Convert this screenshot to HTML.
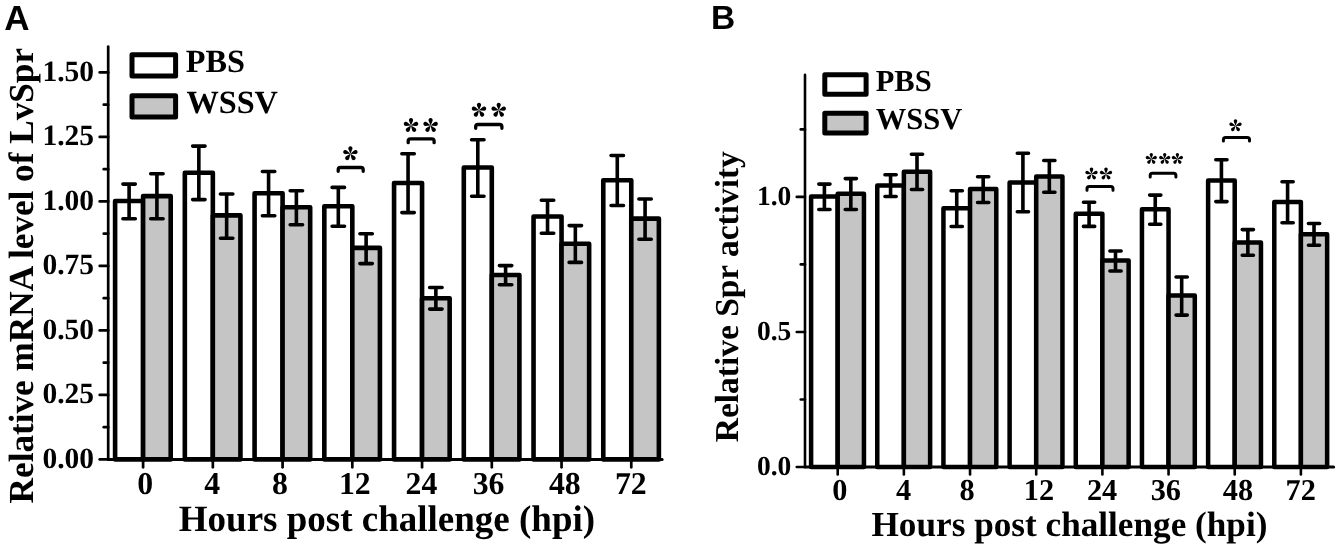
<!DOCTYPE html>
<html><head><meta charset="utf-8"><style>
html,body{margin:0;padding:0;background:#fff;}
body{width:1341px;height:550px;overflow:hidden;}
svg{display:block;will-change:transform;}
text{text-rendering:geometricPrecision;}
</style></head><body>
<svg width="1341" height="550" viewBox="0 0 1341 550">
<rect width="1341" height="550" fill="#fff"/>
<rect x="115.10" y="201.00" width="28.00" height="258.40" fill="#fff" stroke="#000" stroke-width="4.6" stroke-linejoin="round"/>
<rect x="143.10" y="196.10" width="27.60" height="263.30" fill="#c5c5c5" stroke="#000" stroke-width="4.6" stroke-linejoin="round"/>
<rect x="184.84" y="172.80" width="28.00" height="286.60" fill="#fff" stroke="#000" stroke-width="4.6" stroke-linejoin="round"/>
<rect x="212.84" y="215.40" width="27.60" height="244.00" fill="#c5c5c5" stroke="#000" stroke-width="4.6" stroke-linejoin="round"/>
<rect x="254.58" y="193.30" width="28.00" height="266.10" fill="#fff" stroke="#000" stroke-width="4.6" stroke-linejoin="round"/>
<rect x="282.58" y="207.30" width="27.60" height="252.10" fill="#c5c5c5" stroke="#000" stroke-width="4.6" stroke-linejoin="round"/>
<rect x="324.32" y="206.20" width="28.00" height="253.20" fill="#fff" stroke="#000" stroke-width="4.6" stroke-linejoin="round"/>
<rect x="352.32" y="247.90" width="27.60" height="211.50" fill="#c5c5c5" stroke="#000" stroke-width="4.6" stroke-linejoin="round"/>
<rect x="394.06" y="183.00" width="28.00" height="276.40" fill="#fff" stroke="#000" stroke-width="4.6" stroke-linejoin="round"/>
<rect x="422.06" y="298.20" width="27.60" height="161.20" fill="#c5c5c5" stroke="#000" stroke-width="4.6" stroke-linejoin="round"/>
<rect x="463.80" y="167.50" width="28.00" height="291.90" fill="#fff" stroke="#000" stroke-width="4.6" stroke-linejoin="round"/>
<rect x="491.80" y="275.00" width="27.60" height="184.40" fill="#c5c5c5" stroke="#000" stroke-width="4.6" stroke-linejoin="round"/>
<rect x="533.54" y="216.50" width="28.00" height="242.90" fill="#fff" stroke="#000" stroke-width="4.6" stroke-linejoin="round"/>
<rect x="561.54" y="243.80" width="27.60" height="215.60" fill="#c5c5c5" stroke="#000" stroke-width="4.6" stroke-linejoin="round"/>
<rect x="603.28" y="180.30" width="28.00" height="279.10" fill="#fff" stroke="#000" stroke-width="4.6" stroke-linejoin="round"/>
<rect x="631.28" y="218.60" width="27.60" height="240.80" fill="#c5c5c5" stroke="#000" stroke-width="4.6" stroke-linejoin="round"/>
<path d="M129.10,184.10 V218.80 M122.90,184.10 H135.30 M122.90,218.80 H135.30" stroke="#000" stroke-width="3.6" stroke-linecap="round" fill="none"/>
<path d="M156.90,173.70 V218.80 M150.70,173.70 H163.10 M150.70,218.80 H163.10" stroke="#000" stroke-width="3.6" stroke-linecap="round" fill="none"/>
<path d="M198.84,146.10 V199.60 M192.64,146.10 H205.04 M192.64,199.60 H205.04" stroke="#000" stroke-width="3.6" stroke-linecap="round" fill="none"/>
<path d="M226.64,194.00 V238.30 M220.44,194.00 H232.84 M220.44,238.30 H232.84" stroke="#000" stroke-width="3.6" stroke-linecap="round" fill="none"/>
<path d="M268.58,171.50 V215.70 M262.38,171.50 H274.78 M262.38,215.70 H274.78" stroke="#000" stroke-width="3.6" stroke-linecap="round" fill="none"/>
<path d="M296.38,190.80 V224.70 M290.18,190.80 H302.58 M290.18,224.70 H302.58" stroke="#000" stroke-width="3.6" stroke-linecap="round" fill="none"/>
<path d="M338.32,187.40 V226.30 M332.12,187.40 H344.52 M332.12,226.30 H344.52" stroke="#000" stroke-width="3.6" stroke-linecap="round" fill="none"/>
<path d="M366.12,233.70 V263.60 M359.92,233.70 H372.32 M359.92,263.60 H372.32" stroke="#000" stroke-width="3.6" stroke-linecap="round" fill="none"/>
<path d="M408.06,153.70 V212.60 M401.86,153.70 H414.26 M401.86,212.60 H414.26" stroke="#000" stroke-width="3.6" stroke-linecap="round" fill="none"/>
<path d="M435.86,287.50 V309.10 M429.66,287.50 H442.06 M429.66,309.10 H442.06" stroke="#000" stroke-width="3.6" stroke-linecap="round" fill="none"/>
<path d="M477.80,139.70 V196.20 M471.60,139.70 H484.00 M471.60,196.20 H484.00" stroke="#000" stroke-width="3.6" stroke-linecap="round" fill="none"/>
<path d="M505.60,265.60 V284.80 M499.40,265.60 H511.80 M499.40,284.80 H511.80" stroke="#000" stroke-width="3.6" stroke-linecap="round" fill="none"/>
<path d="M547.54,200.20 V233.30 M541.34,200.20 H553.74 M541.34,233.30 H553.74" stroke="#000" stroke-width="3.6" stroke-linecap="round" fill="none"/>
<path d="M575.34,225.60 V262.40 M569.14,225.60 H581.54 M569.14,262.40 H581.54" stroke="#000" stroke-width="3.6" stroke-linecap="round" fill="none"/>
<path d="M617.28,155.50 V205.50 M611.08,155.50 H623.48 M611.08,205.50 H623.48" stroke="#000" stroke-width="3.6" stroke-linecap="round" fill="none"/>
<path d="M645.08,199.00 V239.20 M638.88,199.00 H651.28 M638.88,239.20 H651.28" stroke="#000" stroke-width="3.6" stroke-linecap="round" fill="none"/>
<line x1="108.20" y1="46.60" x2="108.20" y2="459.40" stroke="#000" stroke-width="2.7" stroke-linecap="round"/>
<line x1="108.20" y1="459.40" x2="662.10" y2="459.40" stroke="#000" stroke-width="3.0" stroke-linecap="round"/>
<line x1="99.70" y1="459.40" x2="108.20" y2="459.40" stroke="#000" stroke-width="2.7" stroke-linecap="round"/>
<text x="94.00" y="467.90" text-anchor="end" font-family="Liberation Serif" font-weight="bold" font-size="29.5">0.00</text>
<line x1="99.70" y1="394.90" x2="108.20" y2="394.90" stroke="#000" stroke-width="2.7" stroke-linecap="round"/>
<text x="94.00" y="403.40" text-anchor="end" font-family="Liberation Serif" font-weight="bold" font-size="29.5">0.25</text>
<line x1="99.70" y1="330.40" x2="108.20" y2="330.40" stroke="#000" stroke-width="2.7" stroke-linecap="round"/>
<text x="94.00" y="338.90" text-anchor="end" font-family="Liberation Serif" font-weight="bold" font-size="29.5">0.50</text>
<line x1="99.70" y1="265.90" x2="108.20" y2="265.90" stroke="#000" stroke-width="2.7" stroke-linecap="round"/>
<text x="94.00" y="274.40" text-anchor="end" font-family="Liberation Serif" font-weight="bold" font-size="29.5">0.75</text>
<line x1="99.70" y1="201.40" x2="108.20" y2="201.40" stroke="#000" stroke-width="2.7" stroke-linecap="round"/>
<text x="94.00" y="209.90" text-anchor="end" font-family="Liberation Serif" font-weight="bold" font-size="29.5">1.00</text>
<line x1="99.70" y1="136.90" x2="108.20" y2="136.90" stroke="#000" stroke-width="2.7" stroke-linecap="round"/>
<text x="94.00" y="145.40" text-anchor="end" font-family="Liberation Serif" font-weight="bold" font-size="29.5">1.25</text>
<line x1="99.70" y1="72.40" x2="108.20" y2="72.40" stroke="#000" stroke-width="2.7" stroke-linecap="round"/>
<text x="94.00" y="80.90" text-anchor="end" font-family="Liberation Serif" font-weight="bold" font-size="29.5">1.50</text>
<line x1="103.75" y1="427.15" x2="108.20" y2="427.15" stroke="#000" stroke-width="2.7" stroke-linecap="round"/>
<line x1="103.75" y1="362.65" x2="108.20" y2="362.65" stroke="#000" stroke-width="2.7" stroke-linecap="round"/>
<line x1="103.75" y1="298.15" x2="108.20" y2="298.15" stroke="#000" stroke-width="2.7" stroke-linecap="round"/>
<line x1="103.75" y1="233.65" x2="108.20" y2="233.65" stroke="#000" stroke-width="2.7" stroke-linecap="round"/>
<line x1="103.75" y1="169.15" x2="108.20" y2="169.15" stroke="#000" stroke-width="2.7" stroke-linecap="round"/>
<line x1="103.75" y1="104.65" x2="108.20" y2="104.65" stroke="#000" stroke-width="2.7" stroke-linecap="round"/>
<line x1="143.10" y1="459.40" x2="143.10" y2="467.35" stroke="#000" stroke-width="2.7" stroke-linecap="round"/>
<text x="145.10" y="494.00" text-anchor="middle" font-family="Liberation Serif" font-weight="bold" font-size="31.8">0</text>
<line x1="212.84" y1="459.40" x2="212.84" y2="467.35" stroke="#000" stroke-width="2.7" stroke-linecap="round"/>
<text x="212.28" y="494.00" text-anchor="middle" font-family="Liberation Serif" font-weight="bold" font-size="31.8">4</text>
<line x1="282.58" y1="459.40" x2="282.58" y2="467.35" stroke="#000" stroke-width="2.7" stroke-linecap="round"/>
<text x="280.00" y="494.00" text-anchor="middle" font-family="Liberation Serif" font-weight="bold" font-size="31.8">8</text>
<line x1="352.32" y1="459.40" x2="352.32" y2="467.35" stroke="#000" stroke-width="2.7" stroke-linecap="round"/>
<text x="354.79" y="494.00" text-anchor="middle" font-family="Liberation Serif" font-weight="bold" font-size="31.8">12</text>
<line x1="422.06" y1="459.40" x2="422.06" y2="467.35" stroke="#000" stroke-width="2.7" stroke-linecap="round"/>
<text x="421.48" y="494.00" text-anchor="middle" font-family="Liberation Serif" font-weight="bold" font-size="31.8">24</text>
<line x1="491.80" y1="459.40" x2="491.80" y2="467.35" stroke="#000" stroke-width="2.7" stroke-linecap="round"/>
<text x="488.54" y="494.00" text-anchor="middle" font-family="Liberation Serif" font-weight="bold" font-size="31.8">36</text>
<line x1="561.54" y1="459.40" x2="561.54" y2="467.35" stroke="#000" stroke-width="2.7" stroke-linecap="round"/>
<text x="564.82" y="494.00" text-anchor="middle" font-family="Liberation Serif" font-weight="bold" font-size="31.8">48</text>
<line x1="631.28" y1="459.40" x2="631.28" y2="467.35" stroke="#000" stroke-width="2.7" stroke-linecap="round"/>
<text x="630.79" y="494.00" text-anchor="middle" font-family="Liberation Serif" font-weight="bold" font-size="31.8">72</text>
<text x="178.80" y="531.00" font-family="Liberation Serif" font-weight="bold" font-size="37.0">Hours post challenge (hpi)</text>
<text transform="translate(33.40,503.40) rotate(-90)" font-family="Liberation Serif" font-weight="bold" font-size="35.2">Relative mRNA level of LvSpr</text>
<rect x="132.00" y="54.80" width="43.60" height="21.10" fill="#fff" stroke="#000" stroke-width="5.0" stroke-linejoin="round"/>
<text x="185.70" y="72.10" font-family="Liberation Serif" font-weight="bold" font-size="32.3">PBS</text>
<rect x="132.00" y="95.70" width="43.60" height="21.20" fill="#c5c5c5" stroke="#000" stroke-width="5.0" stroke-linejoin="round"/>
<text x="186.40" y="112.90" font-family="Liberation Serif" font-weight="bold" font-size="32.3">WSSV</text>
<path d="M338.20,171.30 L338.20,169.70 Q338.20,167.50 340.40,167.50 L361.00,167.50 Q363.20,167.50 363.20,169.70 L363.20,171.30" fill="none" stroke="#000" stroke-width="3.3" stroke-linecap="round" stroke-linejoin="round"/>
<g fill="#000"><path transform="translate(350.40,153.70) rotate(0.0)" d="M0,0 L-1.92,-4.55 A2.10,2.10 0 1,1 1.92,-4.55 Z"/><path transform="translate(350.40,153.70) rotate(72.0)" d="M0,0 L-1.92,-4.55 A2.10,2.10 0 1,1 1.92,-4.55 Z"/><path transform="translate(350.40,153.70) rotate(144.0)" d="M0,0 L-1.92,-4.55 A2.10,2.10 0 1,1 1.92,-4.55 Z"/><path transform="translate(350.40,153.70) rotate(216.0)" d="M0,0 L-1.92,-4.55 A2.10,2.10 0 1,1 1.92,-4.55 Z"/><path transform="translate(350.40,153.70) rotate(288.0)" d="M0,0 L-1.92,-4.55 A2.10,2.10 0 1,1 1.92,-4.55 Z"/></g>
<path d="M408.20,142.70 L408.20,141.10 Q408.20,138.90 410.40,138.90 L431.90,138.90 Q434.10,138.90 434.10,141.10 L434.10,142.70" fill="none" stroke="#000" stroke-width="3.3" stroke-linecap="round" stroke-linejoin="round"/>
<g fill="#000"><path transform="translate(411.00,125.50) rotate(0.0)" d="M0,0 L-1.92,-4.55 A2.10,2.10 0 1,1 1.92,-4.55 Z"/><path transform="translate(411.00,125.50) rotate(72.0)" d="M0,0 L-1.92,-4.55 A2.10,2.10 0 1,1 1.92,-4.55 Z"/><path transform="translate(411.00,125.50) rotate(144.0)" d="M0,0 L-1.92,-4.55 A2.10,2.10 0 1,1 1.92,-4.55 Z"/><path transform="translate(411.00,125.50) rotate(216.0)" d="M0,0 L-1.92,-4.55 A2.10,2.10 0 1,1 1.92,-4.55 Z"/><path transform="translate(411.00,125.50) rotate(288.0)" d="M0,0 L-1.92,-4.55 A2.10,2.10 0 1,1 1.92,-4.55 Z"/></g>
<g fill="#000"><path transform="translate(430.60,125.50) rotate(0.0)" d="M0,0 L-1.92,-4.55 A2.10,2.10 0 1,1 1.92,-4.55 Z"/><path transform="translate(430.60,125.50) rotate(72.0)" d="M0,0 L-1.92,-4.55 A2.10,2.10 0 1,1 1.92,-4.55 Z"/><path transform="translate(430.60,125.50) rotate(144.0)" d="M0,0 L-1.92,-4.55 A2.10,2.10 0 1,1 1.92,-4.55 Z"/><path transform="translate(430.60,125.50) rotate(216.0)" d="M0,0 L-1.92,-4.55 A2.10,2.10 0 1,1 1.92,-4.55 Z"/><path transform="translate(430.60,125.50) rotate(288.0)" d="M0,0 L-1.92,-4.55 A2.10,2.10 0 1,1 1.92,-4.55 Z"/></g>
<path d="M475.70,128.30 L475.70,126.70 Q475.70,124.50 477.90,124.50 L499.70,124.50 Q501.90,124.50 501.90,126.70 L501.90,128.30" fill="none" stroke="#000" stroke-width="3.3" stroke-linecap="round" stroke-linejoin="round"/>
<g fill="#000"><path transform="translate(479.00,110.30) rotate(0.0)" d="M0,0 L-1.92,-4.55 A2.10,2.10 0 1,1 1.92,-4.55 Z"/><path transform="translate(479.00,110.30) rotate(72.0)" d="M0,0 L-1.92,-4.55 A2.10,2.10 0 1,1 1.92,-4.55 Z"/><path transform="translate(479.00,110.30) rotate(144.0)" d="M0,0 L-1.92,-4.55 A2.10,2.10 0 1,1 1.92,-4.55 Z"/><path transform="translate(479.00,110.30) rotate(216.0)" d="M0,0 L-1.92,-4.55 A2.10,2.10 0 1,1 1.92,-4.55 Z"/><path transform="translate(479.00,110.30) rotate(288.0)" d="M0,0 L-1.92,-4.55 A2.10,2.10 0 1,1 1.92,-4.55 Z"/></g>
<g fill="#000"><path transform="translate(498.70,110.30) rotate(0.0)" d="M0,0 L-1.92,-4.55 A2.10,2.10 0 1,1 1.92,-4.55 Z"/><path transform="translate(498.70,110.30) rotate(72.0)" d="M0,0 L-1.92,-4.55 A2.10,2.10 0 1,1 1.92,-4.55 Z"/><path transform="translate(498.70,110.30) rotate(144.0)" d="M0,0 L-1.92,-4.55 A2.10,2.10 0 1,1 1.92,-4.55 Z"/><path transform="translate(498.70,110.30) rotate(216.0)" d="M0,0 L-1.92,-4.55 A2.10,2.10 0 1,1 1.92,-4.55 Z"/><path transform="translate(498.70,110.30) rotate(288.0)" d="M0,0 L-1.92,-4.55 A2.10,2.10 0 1,1 1.92,-4.55 Z"/></g>
<text x="4.30" y="30.00" font-family="Liberation Sans" font-weight="bold" font-size="35">A</text>
<rect x="811.10" y="196.50" width="26.60" height="270.50" fill="#fff" stroke="#000" stroke-width="4.5" stroke-linejoin="round"/>
<rect x="837.70" y="193.80" width="26.25" height="273.20" fill="#c5c5c5" stroke="#000" stroke-width="4.5" stroke-linejoin="round"/>
<rect x="877.27" y="185.60" width="26.60" height="281.40" fill="#fff" stroke="#000" stroke-width="4.5" stroke-linejoin="round"/>
<rect x="903.87" y="171.70" width="26.25" height="295.30" fill="#c5c5c5" stroke="#000" stroke-width="4.5" stroke-linejoin="round"/>
<rect x="943.44" y="208.30" width="26.60" height="258.70" fill="#fff" stroke="#000" stroke-width="4.5" stroke-linejoin="round"/>
<rect x="970.04" y="188.90" width="26.25" height="278.10" fill="#c5c5c5" stroke="#000" stroke-width="4.5" stroke-linejoin="round"/>
<rect x="1009.61" y="182.40" width="26.60" height="284.60" fill="#fff" stroke="#000" stroke-width="4.5" stroke-linejoin="round"/>
<rect x="1036.21" y="176.60" width="26.25" height="290.40" fill="#c5c5c5" stroke="#000" stroke-width="4.5" stroke-linejoin="round"/>
<rect x="1075.78" y="213.80" width="26.60" height="253.20" fill="#fff" stroke="#000" stroke-width="4.5" stroke-linejoin="round"/>
<rect x="1102.38" y="260.40" width="26.25" height="206.60" fill="#c5c5c5" stroke="#000" stroke-width="4.5" stroke-linejoin="round"/>
<rect x="1141.95" y="209.20" width="26.60" height="257.80" fill="#fff" stroke="#000" stroke-width="4.5" stroke-linejoin="round"/>
<rect x="1168.55" y="295.40" width="26.25" height="171.60" fill="#c5c5c5" stroke="#000" stroke-width="4.5" stroke-linejoin="round"/>
<rect x="1208.12" y="180.50" width="26.60" height="286.50" fill="#fff" stroke="#000" stroke-width="4.5" stroke-linejoin="round"/>
<rect x="1234.72" y="242.50" width="26.25" height="224.50" fill="#c5c5c5" stroke="#000" stroke-width="4.5" stroke-linejoin="round"/>
<rect x="1274.29" y="201.90" width="26.60" height="265.10" fill="#fff" stroke="#000" stroke-width="4.5" stroke-linejoin="round"/>
<rect x="1300.89" y="234.20" width="26.25" height="232.80" fill="#c5c5c5" stroke="#000" stroke-width="4.5" stroke-linejoin="round"/>
<path d="M824.40,184.10 V209.50 M818.80,184.10 H830.00 M818.80,209.50 H830.00" stroke="#000" stroke-width="3.6" stroke-linecap="round" fill="none"/>
<path d="M850.83,178.60 V209.50 M845.23,178.60 H856.43 M845.23,209.50 H856.43" stroke="#000" stroke-width="3.6" stroke-linecap="round" fill="none"/>
<path d="M890.57,174.70 V196.50 M884.97,174.70 H896.17 M884.97,196.50 H896.17" stroke="#000" stroke-width="3.6" stroke-linecap="round" fill="none"/>
<path d="M917.00,154.30 V189.50 M911.39,154.30 H922.60 M911.39,189.50 H922.60" stroke="#000" stroke-width="3.6" stroke-linecap="round" fill="none"/>
<path d="M956.74,190.70 V226.50 M951.14,190.70 H962.34 M951.14,226.50 H962.34" stroke="#000" stroke-width="3.6" stroke-linecap="round" fill="none"/>
<path d="M983.17,176.70 V202.50 M977.57,176.70 H988.77 M977.57,202.50 H988.77" stroke="#000" stroke-width="3.6" stroke-linecap="round" fill="none"/>
<path d="M1022.91,153.20 V211.80 M1017.31,153.20 H1028.51 M1017.31,211.80 H1028.51" stroke="#000" stroke-width="3.6" stroke-linecap="round" fill="none"/>
<path d="M1049.34,160.50 V192.20 M1043.74,160.50 H1054.93 M1043.74,192.20 H1054.93" stroke="#000" stroke-width="3.6" stroke-linecap="round" fill="none"/>
<path d="M1089.08,202.30 V226.40 M1083.48,202.30 H1094.68 M1083.48,226.40 H1094.68" stroke="#000" stroke-width="3.6" stroke-linecap="round" fill="none"/>
<path d="M1115.51,251.00 V271.00 M1109.91,251.00 H1121.11 M1109.91,271.00 H1121.11" stroke="#000" stroke-width="3.6" stroke-linecap="round" fill="none"/>
<path d="M1155.25,195.10 V224.20 M1149.65,195.10 H1160.85 M1149.65,224.20 H1160.85" stroke="#000" stroke-width="3.6" stroke-linecap="round" fill="none"/>
<path d="M1181.68,277.00 V315.10 M1176.08,277.00 H1187.28 M1176.08,315.10 H1187.28" stroke="#000" stroke-width="3.6" stroke-linecap="round" fill="none"/>
<path d="M1221.42,159.80 V201.60 M1215.82,159.80 H1227.02 M1215.82,201.60 H1227.02" stroke="#000" stroke-width="3.6" stroke-linecap="round" fill="none"/>
<path d="M1247.85,229.60 V255.20 M1242.25,229.60 H1253.44 M1242.25,255.20 H1253.44" stroke="#000" stroke-width="3.6" stroke-linecap="round" fill="none"/>
<path d="M1287.59,181.80 V222.70 M1281.99,181.80 H1293.19 M1281.99,222.70 H1293.19" stroke="#000" stroke-width="3.6" stroke-linecap="round" fill="none"/>
<path d="M1314.02,223.50 V245.30 M1308.42,223.50 H1319.62 M1308.42,245.30 H1319.62" stroke="#000" stroke-width="3.6" stroke-linecap="round" fill="none"/>
<line x1="805.00" y1="74.90" x2="805.00" y2="467.00" stroke="#000" stroke-width="2.6" stroke-linecap="round"/>
<line x1="805.00" y1="467.00" x2="1333.60" y2="467.00" stroke="#000" stroke-width="3.0" stroke-linecap="round"/>
<line x1="796.75" y1="467.00" x2="805.00" y2="467.00" stroke="#000" stroke-width="2.6" stroke-linecap="round"/>
<text x="791.30" y="474.90" text-anchor="end" font-family="Liberation Serif" font-weight="bold" font-size="27.5">0.0</text>
<line x1="796.75" y1="331.95" x2="805.00" y2="331.95" stroke="#000" stroke-width="2.6" stroke-linecap="round"/>
<text x="791.30" y="339.85" text-anchor="end" font-family="Liberation Serif" font-weight="bold" font-size="27.5">0.5</text>
<line x1="796.75" y1="196.90" x2="805.00" y2="196.90" stroke="#000" stroke-width="2.6" stroke-linecap="round"/>
<text x="791.30" y="204.80" text-anchor="end" font-family="Liberation Serif" font-weight="bold" font-size="27.5">1.0</text>
<line x1="800.75" y1="399.48" x2="805.00" y2="399.48" stroke="#000" stroke-width="2.6" stroke-linecap="round"/>
<line x1="800.75" y1="264.42" x2="805.00" y2="264.42" stroke="#000" stroke-width="2.6" stroke-linecap="round"/>
<line x1="800.75" y1="129.38" x2="805.00" y2="129.38" stroke="#000" stroke-width="2.6" stroke-linecap="round"/>
<line x1="837.70" y1="467.00" x2="837.70" y2="474.45" stroke="#000" stroke-width="2.6" stroke-linecap="round"/>
<text x="839.95" y="500.00" text-anchor="middle" font-family="Liberation Serif" font-weight="bold" font-size="30.3">0</text>
<line x1="903.87" y1="467.00" x2="903.87" y2="474.45" stroke="#000" stroke-width="2.6" stroke-linecap="round"/>
<text x="903.58" y="500.00" text-anchor="middle" font-family="Liberation Serif" font-weight="bold" font-size="30.3">4</text>
<line x1="970.04" y1="467.00" x2="970.04" y2="474.45" stroke="#000" stroke-width="2.6" stroke-linecap="round"/>
<text x="967.20" y="500.00" text-anchor="middle" font-family="Liberation Serif" font-weight="bold" font-size="30.3">8</text>
<line x1="1036.21" y1="467.00" x2="1036.21" y2="474.45" stroke="#000" stroke-width="2.6" stroke-linecap="round"/>
<text x="1038.97" y="500.00" text-anchor="middle" font-family="Liberation Serif" font-weight="bold" font-size="30.3">12</text>
<line x1="1102.38" y1="467.00" x2="1102.38" y2="474.45" stroke="#000" stroke-width="2.6" stroke-linecap="round"/>
<text x="1102.10" y="500.00" text-anchor="middle" font-family="Liberation Serif" font-weight="bold" font-size="30.3">24</text>
<line x1="1168.55" y1="467.00" x2="1168.55" y2="474.45" stroke="#000" stroke-width="2.6" stroke-linecap="round"/>
<text x="1165.85" y="500.00" text-anchor="middle" font-family="Liberation Serif" font-weight="bold" font-size="30.3">36</text>
<line x1="1234.72" y1="467.00" x2="1234.72" y2="474.45" stroke="#000" stroke-width="2.6" stroke-linecap="round"/>
<text x="1237.90" y="500.00" text-anchor="middle" font-family="Liberation Serif" font-weight="bold" font-size="30.3">48</text>
<line x1="1300.89" y1="467.00" x2="1300.89" y2="474.45" stroke="#000" stroke-width="2.6" stroke-linecap="round"/>
<text x="1300.75" y="500.00" text-anchor="middle" font-family="Liberation Serif" font-weight="bold" font-size="30.3">72</text>
<text x="871.50" y="536.00" font-family="Liberation Serif" font-weight="bold" font-size="35.2">Hours post challenge (hpi)</text>
<text transform="translate(738.40,442.20) rotate(-90)" font-family="Liberation Serif" font-weight="bold" font-size="33.45">Relative Spr activity</text>
<rect x="824.80" y="74.80" width="41.30" height="19.50" fill="#fff" stroke="#000" stroke-width="5.0" stroke-linejoin="round"/>
<text x="875.70" y="91.20" font-family="Liberation Serif" font-weight="bold" font-size="30.5">PBS</text>
<rect x="824.80" y="113.20" width="41.30" height="19.90" fill="#c5c5c5" stroke="#000" stroke-width="5.0" stroke-linejoin="round"/>
<text x="875.80" y="129.00" font-family="Liberation Serif" font-weight="bold" font-size="30.5">WSSV</text>
<path d="M1087.00,190.20 L1087.00,188.80 Q1087.00,186.60 1089.20,186.60 L1110.80,186.60 Q1113.00,186.60 1113.00,188.80 L1113.00,190.20" fill="none" stroke="#000" stroke-width="3.0" stroke-linecap="round" stroke-linejoin="round"/>
<g fill="#000"><path transform="translate(1091.50,173.90) rotate(0.0)" d="M0,0 L-1.60,-3.94 A1.75,1.75 0 1,1 1.60,-3.94 Z"/><path transform="translate(1091.50,173.90) rotate(72.0)" d="M0,0 L-1.60,-3.94 A1.75,1.75 0 1,1 1.60,-3.94 Z"/><path transform="translate(1091.50,173.90) rotate(144.0)" d="M0,0 L-1.60,-3.94 A1.75,1.75 0 1,1 1.60,-3.94 Z"/><path transform="translate(1091.50,173.90) rotate(216.0)" d="M0,0 L-1.60,-3.94 A1.75,1.75 0 1,1 1.60,-3.94 Z"/><path transform="translate(1091.50,173.90) rotate(288.0)" d="M0,0 L-1.60,-3.94 A1.75,1.75 0 1,1 1.60,-3.94 Z"/></g>
<g fill="#000"><path transform="translate(1106.00,173.90) rotate(0.0)" d="M0,0 L-1.60,-3.94 A1.75,1.75 0 1,1 1.60,-3.94 Z"/><path transform="translate(1106.00,173.90) rotate(72.0)" d="M0,0 L-1.60,-3.94 A1.75,1.75 0 1,1 1.60,-3.94 Z"/><path transform="translate(1106.00,173.90) rotate(144.0)" d="M0,0 L-1.60,-3.94 A1.75,1.75 0 1,1 1.60,-3.94 Z"/><path transform="translate(1106.00,173.90) rotate(216.0)" d="M0,0 L-1.60,-3.94 A1.75,1.75 0 1,1 1.60,-3.94 Z"/><path transform="translate(1106.00,173.90) rotate(288.0)" d="M0,0 L-1.60,-3.94 A1.75,1.75 0 1,1 1.60,-3.94 Z"/></g>
<path d="M1150.20,176.90 L1150.20,175.50 Q1150.20,173.30 1152.40,173.30 L1173.70,173.30 Q1175.90,173.30 1175.90,175.50 L1175.90,176.90" fill="none" stroke="#000" stroke-width="3.0" stroke-linecap="round" stroke-linejoin="round"/>
<g fill="#000"><path transform="translate(1151.30,158.80) rotate(0.0)" d="M0,0 L-1.51,-3.53 A1.65,1.65 0 1,1 1.51,-3.53 Z"/><path transform="translate(1151.30,158.80) rotate(72.0)" d="M0,0 L-1.51,-3.53 A1.65,1.65 0 1,1 1.51,-3.53 Z"/><path transform="translate(1151.30,158.80) rotate(144.0)" d="M0,0 L-1.51,-3.53 A1.65,1.65 0 1,1 1.51,-3.53 Z"/><path transform="translate(1151.30,158.80) rotate(216.0)" d="M0,0 L-1.51,-3.53 A1.65,1.65 0 1,1 1.51,-3.53 Z"/><path transform="translate(1151.30,158.80) rotate(288.0)" d="M0,0 L-1.51,-3.53 A1.65,1.65 0 1,1 1.51,-3.53 Z"/></g>
<g fill="#000"><path transform="translate(1164.70,158.80) rotate(0.0)" d="M0,0 L-1.51,-3.53 A1.65,1.65 0 1,1 1.51,-3.53 Z"/><path transform="translate(1164.70,158.80) rotate(72.0)" d="M0,0 L-1.51,-3.53 A1.65,1.65 0 1,1 1.51,-3.53 Z"/><path transform="translate(1164.70,158.80) rotate(144.0)" d="M0,0 L-1.51,-3.53 A1.65,1.65 0 1,1 1.51,-3.53 Z"/><path transform="translate(1164.70,158.80) rotate(216.0)" d="M0,0 L-1.51,-3.53 A1.65,1.65 0 1,1 1.51,-3.53 Z"/><path transform="translate(1164.70,158.80) rotate(288.0)" d="M0,0 L-1.51,-3.53 A1.65,1.65 0 1,1 1.51,-3.53 Z"/></g>
<g fill="#000"><path transform="translate(1177.40,158.80) rotate(0.0)" d="M0,0 L-1.51,-3.53 A1.65,1.65 0 1,1 1.51,-3.53 Z"/><path transform="translate(1177.40,158.80) rotate(72.0)" d="M0,0 L-1.51,-3.53 A1.65,1.65 0 1,1 1.51,-3.53 Z"/><path transform="translate(1177.40,158.80) rotate(144.0)" d="M0,0 L-1.51,-3.53 A1.65,1.65 0 1,1 1.51,-3.53 Z"/><path transform="translate(1177.40,158.80) rotate(216.0)" d="M0,0 L-1.51,-3.53 A1.65,1.65 0 1,1 1.51,-3.53 Z"/><path transform="translate(1177.40,158.80) rotate(288.0)" d="M0,0 L-1.51,-3.53 A1.65,1.65 0 1,1 1.51,-3.53 Z"/></g>
<path d="M1223.40,141.10 L1223.40,139.70 Q1223.40,137.50 1225.60,137.50 L1247.30,137.50 Q1249.50,137.50 1249.50,139.70 L1249.50,141.10" fill="none" stroke="#000" stroke-width="3.0" stroke-linecap="round" stroke-linejoin="round"/>
<g fill="#000"><path transform="translate(1235.50,125.70) rotate(0.0)" d="M0,0 L-1.60,-3.94 A1.75,1.75 0 1,1 1.60,-3.94 Z"/><path transform="translate(1235.50,125.70) rotate(72.0)" d="M0,0 L-1.60,-3.94 A1.75,1.75 0 1,1 1.60,-3.94 Z"/><path transform="translate(1235.50,125.70) rotate(144.0)" d="M0,0 L-1.60,-3.94 A1.75,1.75 0 1,1 1.60,-3.94 Z"/><path transform="translate(1235.50,125.70) rotate(216.0)" d="M0,0 L-1.60,-3.94 A1.75,1.75 0 1,1 1.60,-3.94 Z"/><path transform="translate(1235.50,125.70) rotate(288.0)" d="M0,0 L-1.60,-3.94 A1.75,1.75 0 1,1 1.60,-3.94 Z"/></g>
<text x="711.00" y="29.10" font-family="Liberation Sans" font-weight="bold" font-size="33.5">B</text>
</svg>
</body></html>
